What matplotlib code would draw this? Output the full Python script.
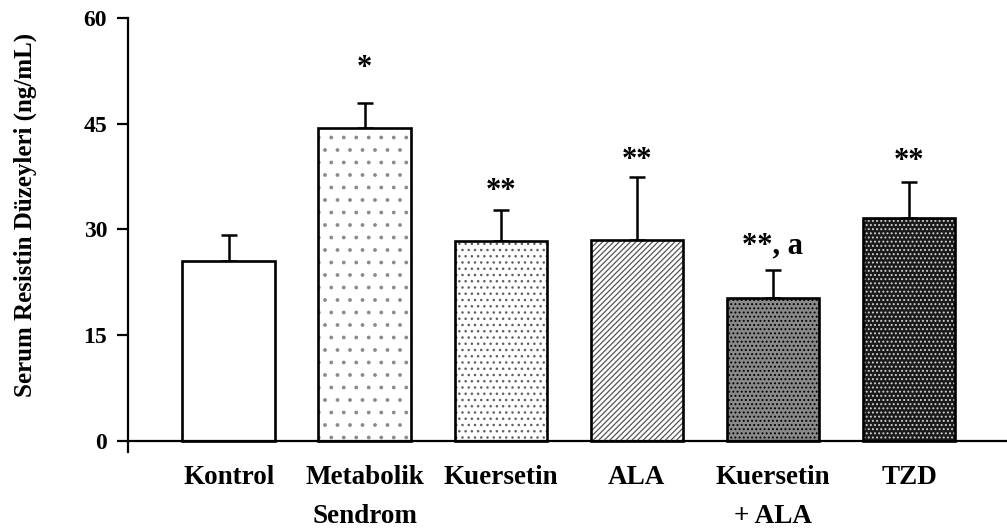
import matplotlib
matplotlib.use("Agg")
import matplotlib.pyplot as plt
import matplotlib.hatch as mhatch
from matplotlib.path import Path
import numpy as np

categories = ["Kontrol", "Metabolik\nSendrom", "Kuersetin", "ALA", "Kuersetin\n+ ALA", "TZD"]
means = [25.5, 44.4, 28.4, 28.5, 20.3, 31.6]
sds = [3.7, 3.6, 4.4, 8.9, 3.9, 5.1]
marks = ["", "*", "**", "**", "**, a", "**"]
yticks = [0, 15, 30, 45, 60]

# styles
faces = ["white", "white", "white", "white", "#8a8a8a", "#1a1a1a"]
hatches = [None, ".", "..", "//////", "...", "..."]
hatch_cols = ["black", "#8a8a8a", "#606060", "#555555", "black", "#d0d0d0"]
mark_gap_px = [0, 27, 11, 9, 17, 13]


# slightly finer dot hatch spacing than the default grid
def _hatch(hatchpattern, density=6):
    if hatchpattern is None:
        return None
    d = 8 if "." in hatchpattern else density
    return mhatch.get_path(hatchpattern, d)


Path.hatch = staticmethod(_hatch)

plt.rcParams["font.family"] = ["Liberation Serif", "DejaVu Serif"]
plt.rcParams["font.weight"] = "bold"
plt.rcParams["hatch.linewidth"] = 0.9

fig = plt.figure(figsize=(10.07, 5.29), dpi=100)
ax = fig.add_axes([128 / 1007, 1 - 452 / 529, 1 - 128 / 1007, (452 - 18) / 529])

x = np.arange(len(categories))
w = 0.68
ax.bar(x, means, w, color=faces, edgecolor="none", zorder=2)
for xi, m, h, hc in zip(x, means, hatches, hatch_cols):
    if h:
        ax.bar(xi, m, w, color="none", edgecolor=hc, hatch=h, linewidth=0, zorder=3)
ax.bar(x, means, w, color="none", edgecolor="black", linewidth=1.9, zorder=4)
ax.errorbar(x, means, yerr=[np.zeros(len(sds)), sds], fmt="none", ecolor="black",
            elinewidth=1.8, capsize=5.5, capthick=1.8, zorder=1)

for xi, m, s, t, g in zip(x, means, sds, marks, mark_gap_px):
    if t:
        ax.annotate(t, (xi, m + s), xytext=(0, g * 0.72), textcoords="offset points",
                    ha="center", va="baseline", fontsize=22, fontweight="bold")

ax.set_xlim(-0.74, 5.72)
ax.set_ylim(-1.6, 60)
ax.set_yticks(yticks)
ax.set_yticklabels([str(v) for v in yticks], fontsize=17, fontweight="bold")
ax.spines["top"].set_visible(False)
ax.spines["right"].set_visible(False)
ax.spines["bottom"].set_position(("data", 0))
ax.spines["left"].set_linewidth(1.6)
ax.spines["bottom"].set_linewidth(1.6)
ax.tick_params(axis="y", direction="out", length=8, width=1.6, pad=7)
ax.tick_params(axis="x", length=0)
ax.set_xticks(x)
ax.set_xticklabels([])
for xi, c in zip(x, categories):
    ax.text(xi, -3.4, c, ha="center", va="top", fontsize=19.5, fontweight="bold",
            linespacing=1.75)
ax.set_ylabel("Serum Resistin Düzeyleri (ng/mL)", fontsize=18, fontweight="bold")
ax.yaxis.set_label_coords(-0.104, 0.546)

fig.savefig("out.png", dpi=100)
